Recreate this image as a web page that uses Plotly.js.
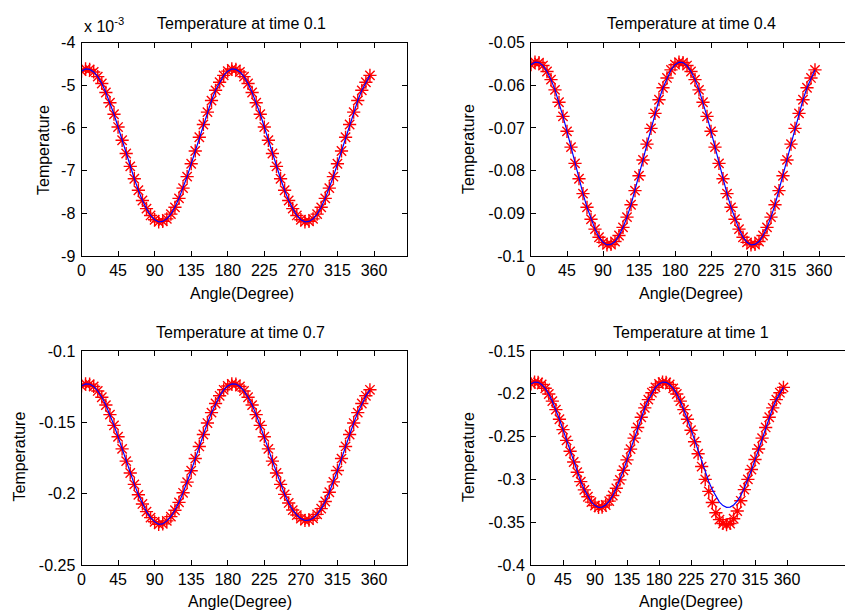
<!DOCTYPE html>
<html><head><meta charset="utf-8">
<script src="https://cdn.plot.ly/plotly-3.0.1.min.js"></script>
<style>html,body{margin:0;padding:0;overflow:hidden;background:#fff}#chart{width:860px;height:611px}</style>
</head><body><div id="chart"></div><script>
// Angle (degrees) of every sample
const angles = [0,5,10,15,20,25,30,35,40,45,50,55,60,65,70,75,80,85,90,95,100,105,110,115,120,125,130,135,140,145,150,155,160,165,170,175,
  180,185,190,195,200,205,210,215,220,225,230,235,240,245,250,255,260,265,270,275,280,285,290,295,300,305,310,315,320,325,330,335,340,345,350,355];

// Time 0.1 (values in units of 1e-3)
const temp01 = [-4.67,-4.62,-4.63,-4.69,-4.80,-4.96,-5.17,-5.41,-5.68,-5.98,-6.29,-6.60,-6.90,-7.19,-7.46,-7.70,-7.89,-8.05,-8.15,-8.20,-8.19,-8.13,-8.02,-7.86,-7.65,-7.41,-7.14,-6.84,-6.54,-6.22,-5.92,-5.63,-5.36,-5.12,-4.93,-4.77,
  -4.67,-4.62,-4.63,-4.69,-4.80,-4.96,-5.17,-5.41,-5.68,-5.98,-6.29,-6.60,-6.90,-7.19,-7.46,-7.70,-7.89,-8.05,-8.15,-8.20,-8.19,-8.13,-8.02,-7.86,-7.65,-7.41,-7.14,-6.84,-6.54,-6.22,-5.92,-5.63,-5.36,-5.12,-4.93,-4.77];

// Time 0.4
const temp04 = [-0.0552,-0.0546,-0.0547,-0.0554,-0.0568,-0.0587,-0.0611,-0.0640,-0.0673,-0.0708,-0.0745,-0.0783,-0.0819,-0.0854,-0.0886,-0.0914,-0.0937,-0.0956,-0.0968,-0.0974,-0.0973,-0.0966,-0.0952,-0.0933,-0.0909,-0.0880,-0.0847,-0.0812,-0.0775,-0.0738,-0.0701,-0.0666,-0.0634,-0.0606,-0.0583,-0.0564,
  -0.0552,-0.0546,-0.0547,-0.0554,-0.0568,-0.0587,-0.0611,-0.0640,-0.0673,-0.0708,-0.0745,-0.0783,-0.0819,-0.0854,-0.0886,-0.0914,-0.0937,-0.0956,-0.0968,-0.0974,-0.0973,-0.0966,-0.0952,-0.0933,-0.0909,-0.0880,-0.0847,-0.0812,-0.0775,-0.0738,-0.0701,-0.0666,-0.0634,-0.0606,-0.0583,-0.0564];

// Time 0.7
const temp07 = [-0.1245,-0.1231,-0.1232,-0.1249,-0.1280,-0.1324,-0.1379,-0.1446,-0.1521,-0.1601,-0.1686,-0.1772,-0.1855,-0.1935,-0.2008,-0.2072,-0.2126,-0.2168,-0.2197,-0.2215,-0.2212,-0.2191,-0.2161,-0.2116,-0.2061,-0.1994,-0.1919,-0.1839,-0.1754,-0.1669,-0.1585,-0.1505,-0.1432,-0.1368,-0.1314,-0.1272,
  -0.1245,-0.1231,-0.1232,-0.1249,-0.1280,-0.1324,-0.1379,-0.1446,-0.1521,-0.1601,-0.1686,-0.1772,-0.1855,-0.1935,-0.2005,-0.2065,-0.2115,-0.2150,-0.2175,-0.2188,-0.2186,-0.2172,-0.2145,-0.2105,-0.2055,-0.1990,-0.1917,-0.1838,-0.1754,-0.1669,-0.1585,-0.1505,-0.1432,-0.1368,-0.1314,-0.1272];

// Time 1 : reference curve (blue line) and computed points (red stars)
const temp10Line = [-0.1884,-0.1863,-0.1866,-0.1891,-0.1936,-0.2002,-0.2086,-0.2185,-0.2297,-0.2418,-0.2544,-0.2672,-0.2797,-0.2916,-0.3026,-0.3122,-0.3203,-0.3265,-0.3306,-0.3327,-0.3324,-0.3299,-0.3254,-0.3188,-0.3104,-0.3005,-0.2893,-0.2772,-0.2646,-0.2518,-0.2393,-0.2274,-0.2164,-0.2068,-0.1987,-0.1925,
  -0.1884,-0.1863,-0.1866,-0.1891,-0.1936,-0.2002,-0.2086,-0.2185,-0.2297,-0.2418,-0.2544,-0.2672,-0.2797,-0.2916,-0.3026,-0.3122,-0.3203,-0.3265,-0.3306,-0.3327,-0.3324,-0.3299,-0.3254,-0.3188,-0.3104,-0.3005,-0.2893,-0.2772,-0.2646,-0.2518,-0.2393,-0.2274,-0.2164,-0.2068,-0.1987,-0.1925];
const temp10Pts = [-0.1884,-0.1863,-0.1866,-0.1891,-0.1936,-0.2002,-0.2086,-0.2185,-0.2297,-0.2418,-0.2544,-0.2672,-0.2797,-0.2916,-0.3026,-0.3122,-0.3203,-0.3265,-0.3306,-0.3327,-0.3324,-0.3299,-0.3254,-0.3188,-0.3104,-0.3005,-0.2893,-0.2772,-0.2646,-0.2518,-0.2393,-0.2274,-0.2164,-0.2068,-0.1987,-0.1925,
  -0.1884,-0.1863,-0.1866,-0.1891,-0.1936,-0.2002,-0.2086,-0.2185,-0.2297,-0.2425,-0.2560,-0.2700,-0.2850,-0.3000,-0.3140,-0.3270,-0.3390,-0.3470,-0.3515,-0.3530,-0.3515,-0.3460,-0.3370,-0.3250,-0.3120,-0.3000,-0.2885,-0.2768,-0.2644,-0.2518,-0.2393,-0.2274,-0.2164,-0.2068,-0.1987,-0.1925];

const titles = ['Temperature at time 0.1','Temperature at time 0.4','Temperature at time 0.7','Temperature at time 1'];
const xTitle = 'Angle(Degree)';
const yTitle = 'Temperature';
const xTickVals = [0,45,90,135,180,225,270,315,360];
const xTickText = ['0','45','90','135','180','225','270','315','360'];
const y1TickVals = [-9,-8,-7,-6,-5,-4];
const y1TickText = ['-9','-8','-7','-6','-5','-4'];
const y2TickVals = [-0.1,-0.09,-0.08,-0.07,-0.06,-0.05];
const y2TickText = ['-0.1','-0.09','-0.08','-0.07','-0.06','-0.05'];
const y3TickVals = [-0.25,-0.2,-0.15,-0.1];
const y3TickText = ['-0.25','-0.2','-0.15','-0.1'];
const y4TickVals = [-0.4,-0.35,-0.3,-0.25,-0.2,-0.15];
const y4TickText = ['-0.4','-0.35','-0.3','-0.25','-0.2','-0.15'];

const W = 860, H = 611;
const px = v => v / W;
const py = v => 1 - v / H;
const FONT = 'Liberation Sans, Arial, sans-serif';
const FS = 16;

const markerStyle = {symbol:'asterisk-open', size:11, color:'red', line:{color:'red', width:1.4}};
const lineStyle = {color:'blue', width:1.2};

function pair(y, yline, n) {
  const xa = n === 1 ? 'x' : 'x' + n, ya = n === 1 ? 'y' : 'y' + n;
  return [
    {x: angles, y: y, mode:'markers', marker: markerStyle, xaxis: xa, yaxis: ya, showlegend:false, hoverinfo:'skip'},
    {x: angles, y: yline, mode:'lines', line: lineStyle, xaxis: xa, yaxis: ya, showlegend:false, hoverinfo:'skip'}
  ];
}
const data = [].concat(pair(temp01, temp01, 1), pair(temp04, temp04, 2), pair(temp07, temp07, 3), pair(temp10Pts, temp10Line, 4));

function xax(dom, yanchor, range) {
  return {domain: dom, anchor: yanchor, range: range, tickvals: xTickVals, ticktext: xTickText,
    ticks:'inside', ticklen:5, tickcolor:'#000', tickwidth:1, showline:true, linecolor:'#000', linewidth:1,
    mirror:'ticks', showgrid:false, zeroline:false, fixedrange:true,
    tickfont:{family:FONT, size:FS, color:'#000'}};
}
function yax(dom, xanchor, range, tv, tt) {
  return {domain: dom, anchor: xanchor, range: range, tickvals: tv, ticktext: tt,
    ticks:'inside', ticklen:5, tickcolor:'#000', tickwidth:1, showline:true, linecolor:'#000', linewidth:1,
    mirror:'ticks', showgrid:false, zeroline:false, fixedrange:true, ticklabelstandoff:2,
    tickfont:{family:FONT, size:FS, color:'#000'}};
}

const L1 = [px(81.5), px(406.5)], L2 = [px(531), px(851)];
const T1 = [py(256), py(42.5)], T2 = [py(565), py(351)];

const layout = {
  width: W, height: H, margin:{l:0,r:0,t:0,b:0}, paper_bgcolor:'#fff', plot_bgcolor:'#fff',
  font:{family:FONT, size:FS, color:'#000'},
  xaxis: xax(L1, 'y', [0,400]), yaxis: yax(T1, 'x', [-9,-4], y1TickVals, y1TickText),
  xaxis2: xax(L2, 'y2', [0,400]), yaxis2: yax(T1, 'x2', [-0.1,-0.05], y2TickVals, y2TickText),
  xaxis3: xax(L1, 'y3', [0,400]), yaxis3: yax(T2, 'x3', [-0.25,-0.1], y3TickVals, y3TickText),
  xaxis4: xax(L2, 'y4', [0,450]), yaxis4: yax(T2, 'x4', [-0.4,-0.15], y4TickVals, y4TickText),
  annotations: []
};
function ann(text, x, y, extra) {
  layout.annotations.push(Object.assign({text:text, x:px(x), y:py(y), xref:'paper', yref:'paper',
    showarrow:false, xanchor:'center', yanchor:'middle', font:{family:FONT, size:FS, color:'#000'}}, extra || {}));
}
ann(titles[0], 241, 23); ann(titles[1], 691, 23); ann(titles[2], 240.5, 332); ann(titles[3], 691, 332);
ann(xTitle, 242, 293); ann(xTitle, 691, 293); ann(xTitle, 240, 601.5); ann(xTitle, 691, 601.5);
ann(yTitle, 43, 150, {textangle:-90}); ann(yTitle, 468, 149, {textangle:-90});
ann(yTitle, 18.5, 457, {textangle:-90}); ann(yTitle, 468, 457, {textangle:-90});
ann('x 10<sup>-3</sup>', 82, 25, {xanchor:'left'});

Plotly.newPlot('chart', data, layout, {staticPlot:true, displayModeBar:false});
</script></body></html>
